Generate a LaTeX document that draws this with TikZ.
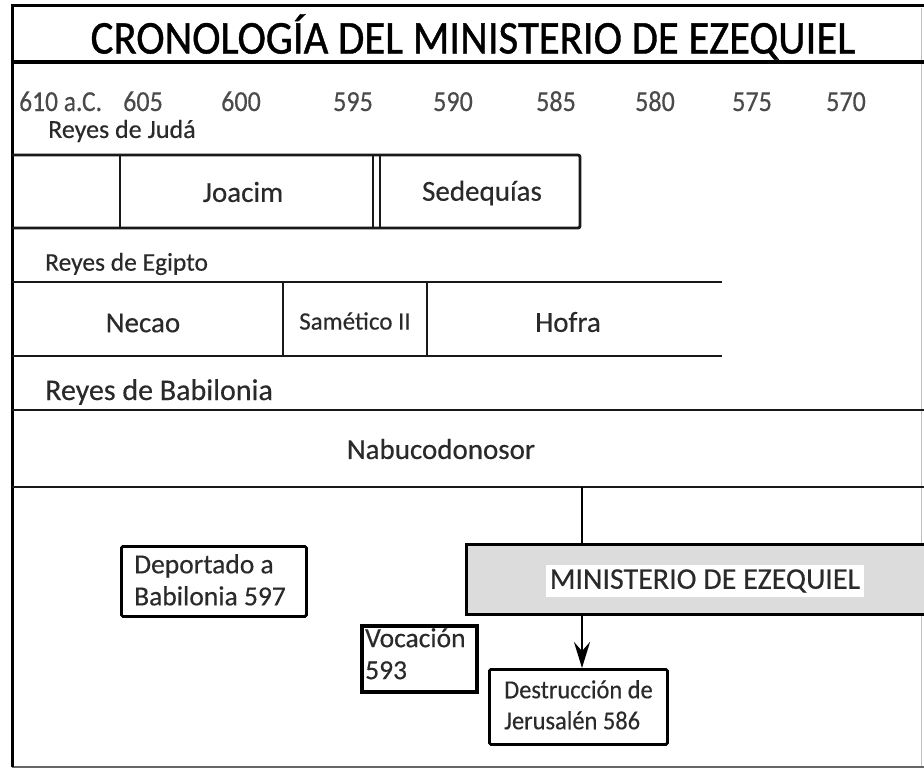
\documentclass[tikz,border=0pt]{standalone}
\usepackage{graphicx}
\usepackage{fontspec}
\setmainfont{Carlito}
\newfontfamily\titlefont{Carlito}[FakeBold=0.9]
\newfontfamily\bodyfont{Carlito}[FakeBold=0.35]
\usetikzlibrary{arrows.meta}
\definecolor{txt}{HTML}{2A2A2A}
\definecolor{ministry}{HTML}{DCDCDC}
\newcommand{\narrowtxt}[2]{\scalebox{#1}[1]{#2}}
\tikzset{
  frameline/.style={line width=3pt, black},
  rowline/.style={line width=2.8pt, black!90},
  year/.style={font=\bodyfont\fontsize{29}{34}\selectfont, text=txt!85, inner sep=0pt, anchor=base},
  rowlabel/.style={font=\bodyfont\fontsize{26}{31}\selectfont, text=txt, anchor=west, inner sep=0pt},
  king/.style={font=\bodyfont\fontsize{29}{34}\selectfont, text=txt, inner sep=0pt},
  eventbox/.style={draw=black, line width=2.8pt, rounded corners=1.5pt, fill=white, inner sep=0pt},
  eventtext/.style={font=\bodyfont\fontsize{27.5}{32}\selectfont, text=txt, align=left, inner sep=0pt, anchor=north west},
}
\begin{document}
\begin{tikzpicture}[x=1pt,y=-1pt]
\useasboundingbox (0,0) rectangle (924,769);
\clip (0,0) rectangle (924,769);
\fill[white] (0,0) rectangle (924,769);

% outer frame
\draw[line width=1pt, black!25] (921,8) -- (921,766);
\draw[line width=2pt, black!60] (12,767) -- (924,767);
\draw[frameline] (12,767) -- (12,5) -- (924,5);
\draw[line width=4pt] (12,62) -- (924,62);

% title
\node[font=\titlefont\fontsize{47}{54}\selectfont, text=black, inner sep=0pt] (title) at (473,37) {\narrowtxt{0.91}{CRONOLOGÍA DEL MINISTERIO DE EZEQUIEL}};

% years
\node[year, anchor=base west] (y610) at (19,111) {\narrowtxt{0.88}{610 a.C.}};
\node[year] (y605) at (143,111) {\narrowtxt{0.9}{605}};
\node[year] (y600) at (241,111) {\narrowtxt{0.9}{600}};
\node[year] (y595) at (353,111) {\narrowtxt{0.9}{595}};
\node[year] (y590) at (453,111) {\narrowtxt{0.9}{590}};
\node[year] (y585) at (556,111) {\narrowtxt{0.9}{585}};
\node[year] (y580) at (655,111) {\narrowtxt{0.9}{580}};
\node[year] (y575) at (752,111) {\narrowtxt{0.9}{575}};
\node[year] (y570) at (846,111) {\narrowtxt{0.9}{570}};

% Juda
\node[rowlabel] (judalbl) at (48,131) {Reyes de Judá};
\draw[rowline, rounded corners=2pt] (12,155) -- (580,155) -- (580,228) -- (12,228);
\draw[rowline] (120,155) -- (120,228);
\draw[rowline] (373,155) -- (373,228);
\draw[rowline] (380,155) -- (380,228);
\node[king] (joacim) at (243,192) {Joacim};
\node[king] (sedequias) at (482,193) {Sedequías};

% Egypt
\node[rowlabel, font=\bodyfont\fontsize{25.5}{30}\selectfont] (egiptolbl) at (45,264) {Reyes de Egipto};
\draw[rowline] (12,282) -- (722,282);
\draw[rowline] (12,356) -- (722,356);
\draw[rowline] (283,282) -- (283,356);
\draw[rowline] (427,282) -- (427,356);
\node[king] (necao) at (143,323) {Necao};
\node[king, font=\bodyfont\fontsize{25}{30}\selectfont] (sametico) at (355,321) {Samético II};
\node[king] (hofra) at (568,322) {Hofra};

% Babylon
\node[rowlabel, font=\bodyfont\fontsize{30}{35}\selectfont] (babilonialbl) at (45,392) {Reyes de Babilonia};
\draw[rowline] (12,410) -- (924,410);
\draw[rowline] (12,487) -- (924,487);
\node[king] (nabuco) at (441,449) {Nabucodonosor};
\coordinate (split) at (582,487);

% ministry
\node[draw=black, line width=2.8pt, fill=ministry, minimum width=470pt, minimum height=70pt, inner sep=0pt, anchor=north west] (ministry) at (465,543) {};
\node[fill=white, inner xsep=4pt, inner ysep=4pt, font=\bodyfont\fontsize{30}{34}\selectfont, text=txt] (ministrytxt) at (705,581) {MINISTERIO DE EZEQUIEL};

% events
\node[eventbox, minimum width=185pt, minimum height=70pt, anchor=north west] (deport) at (120,545) {};
\node[eventtext] (deporttxt) at ([xshift=14pt,yshift=-9pt]deport.north west) {Deportado a\\Babilonia 597};
\node[eventbox, line width=4.2pt, rounded corners=0pt, minimum width=115pt, minimum height=66pt, anchor=north west] (vocacion) at (360,624) {};
\node[eventtext] (vocaciontxt) at ([xshift=5pt,yshift=-4pt]vocacion.north west) {Vocación\\593};
\node[eventbox, minimum width=178pt, minimum height=75pt, anchor=north west] (destruccion) at (488,668) {};
\node[eventtext, font=\bodyfont\fontsize{26}{31}\selectfont] (destrucciontxt) at ([xshift=16pt,yshift=-12pt]destruccion.north west) {\narrowtxt{0.94}{Destrucción de}\\\narrowtxt{0.94}{Jerusalén 586}};

% connectors
\draw[line width=2.8pt] (split) -- (split |- ministry.north);
\draw[line width=2.8pt, -{Stealth[length=26pt,width=16pt,inset=9pt]}] (split |- ministry.south) -- (split |- destruccion.north);
\end{tikzpicture}
\end{document}
